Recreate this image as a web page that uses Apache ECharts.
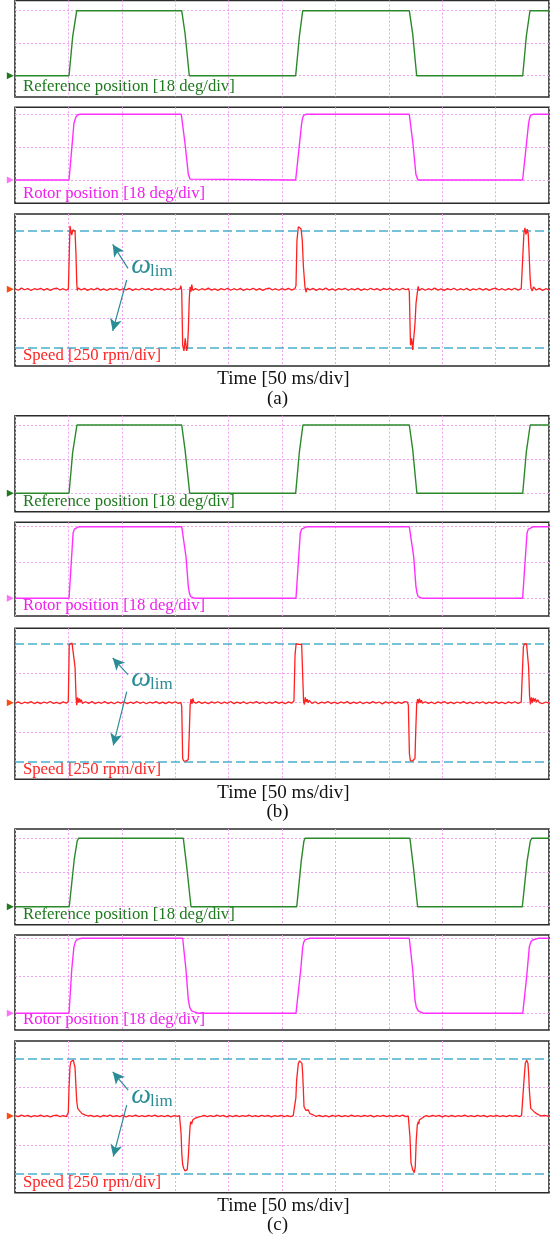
<!DOCTYPE html>
<html>
<head>
<meta charset="utf-8">
<script src="https://cdn.jsdelivr.net/npm/echarts@6/dist/echarts.min.js"></script>
<style>
html,body{margin:0;padding:0;background:#fff}
#chart{width:560px;height:1247px}
</style>
</head>
<body>
<div id="chart"></div>
<script>
// time in ms (50 ms/div), position in deg (18 deg/div), speed in rpm (250 rpm/div)
const timeRange = [0, 500]
const timeStep = 50
const posLevels = [0, 18, 36]
const speedLevels = [-250, 0, 250]
const speedLimit = 500
const panelTags = ['(a)', '(b)', '(c)']
const axisCaption = 'Time [50 ms/div]'
const traceNames = ['Reference position [18 deg/div]', 'Rotor position [18 deg/div]', 'Speed [250 rpm/div]']

const refA = [[0,0],[50.6,0],[54,21.6],[57.8,36],[156.1,36],[159.2,23.5],[163.2,0],[262.8,0],[266.3,22],[269.4,36],[369.2,36],[372.4,23],[376.1,0],[475.4,0],[478.8,22],[482.2,36],[500,36]]
const refB = [[0,0],[50.6,0],[54,21.6],[58,36],[156.1,36],[159.2,23],[163.6,0],[262.8,0],[266.3,22],[269.6,36],[369.2,36],[372.4,23],[376.3,0],[475.4,0],[478.8,22],[482.4,36],[500,36]]
const refC = [[0,0],[50.8,0],[55.5,25],[58.2,34.5],[59.5,36],[157.6,36],[161,20],[164.8,0],[263.8,0],[268,24],[270.5,34.5],[271.5,36],[369.8,36],[373.2,20],[377,0],[475,0],[479.5,24],[482.5,34.5],[483.8,36],[500,36]]

const rotorA = [[0,0],[50.6,0],[55.2,31.1],[56.8,34.2],[58.3,35.6],[60.9,36],[155.7,36],[159.2,20],[162.3,3],[163.9,0.5],[165.7,0],[262.8,0],[268.4,31],[269.3,34],[270.2,35.4],[272.5,36],[369.2,36],[372.6,20],[375.4,3],[377.3,0],[475.3,0],[480.9,31],[481.9,34],[482.8,35.5],[485,36],[500,36]]
const rotorB = [[0,0],[50.6,0],[54.4,32.7],[55.6,34.8],[57.1,35.7],[60,36],[156.1,36],[160.1,20.9],[162.3,5.8],[163.4,2.4],[164.5,0.8],[168.5,0],[263.1,0],[267.1,32.7],[268.3,34.8],[269.7,35.7],[273.4,36],[369.2,36],[373.3,21],[375.4,6],[376.5,2.4],[377.6,0.8],[381.7,0],[475.3,0],[479.4,32.7],[480.6,34.8],[481.9,35.7],[485.7,36],[500,36]]
const rotorC = [[0,0],[50.6,0],[53.1,20.8],[55.2,32],[56.6,34.4],[58.3,35.5],[62.4,36],[157,36],[160.1,20.8],[162.3,6.4],[163.6,2.8],[165.4,1.2],[171.6,0],[263.1,0],[267.5,20.8],[269.4,32],[270.4,34.2],[271.5,35.2],[275.6,36],[369.2,36],[372.4,20.8],[374.5,6.4],[375.8,2.8],[377.6,1.2],[382.3,0],[475.4,0],[479.1,17.6],[481.6,32],[483,34.2],[484.7,35.2],[489.9,36],[500,36]]

const speedA = [[0,4],[3,-8],[6,10],[9,-4],[12,7],[15,-10],[18,5],[21,-3],[24,9],[27,-7],[30,6],[33,-9],[36,3],[39,11],[42,-6],[45,5],[48,-8],[50,4],
  [50.6,20],[51.5,544],[52.3,500],[53.1,465],[54.2,510],[55.2,522],[56.2,500],[57.1,300],[57.8,60],[58.3,-10],[59.5,12],
  [62,-6],[65,8],[68,-9],[71,5],[74,-4],[77,10],[80,-7],[83,4],[86,-10],[89,6],[92,-3],[95,9],[98,-8],[101,5],[104,-5],[107,8],[110,-9],[113,4],[116,-6],[119,9],[122,-4],[125,6],[128,-10],[131,7],[134,-3],[137,8],[140,-8],[143,5],[146,-6],[149,9],[152,-4],[154.5,6],[155.3,30],[156.1,-10],
  [157,-480],[158.2,-528],[159.4,-420],[160.7,-528],[161.5,-500],[162.3,-350],[163.2,-80],[163.9,20],[164.8,-20],[165.5,40],[166.5,-10],
  [169,7],[172,-8],[175,5],[178,-5],[181,10],[184,-7],[187,4],[190,-9],[193,6],[196,-4],[199,9],[202,-8],[205,5],[208,-6],[211,8],[214,-10],[217,4],[220,-4],[223,9],[226,-7],[229,6],[232,-9],[235,3],[238,10],[241,-6],[244,5],[247,-8],[250,6],[253,-5],[256,9],[259,-7],[262,5],
  [263.1,30],[264,420],[265.3,536],[266.5,525],[267.8,520],[269,420],[270,200],[271.5,20],[272.5,-25],[273.5,10],
  [276,-6],[279,8],[282,-9],[285,5],[288,-4],[291,10],[294,-7],[297,4],[300,-10],[303,6],[306,-3],[309,9],[312,-8],[315,5],[318,-5],[321,8],[324,-9],[327,4],[330,-6],[333,9],[336,-4],[339,6],[342,-10],[345,7],[348,-3],[351,8],[354,-8],[357,5],[360,-6],[363,9],[366,-4],[368.5,5],
  [369.2,-20],[370.3,-480],[371.4,-420],[372.4,-520],[373.6,-505],[374.5,-300],[375.5,-120],[376.7,-30],[377.5,25],[378.5,-10],
  [381,7],[384,-8],[387,5],[390,-5],[393,10],[396,-7],[399,4],[402,-9],[405,6],[408,-4],[411,9],[414,-8],[417,5],[420,-6],[423,8],[426,-10],[429,4],[432,-4],[435,9],[438,-7],[441,6],[444,-9],[447,3],[450,10],[453,-6],[456,5],[459,-8],[462,6],[465,-5],[468,9],[471,-7],[474,5],
  [475.3,20],[476.5,480],[477.5,527],[478.4,470],[479.6,516],[480.5,480],[481.2,350],[482.3,100],[483.1,10],[484.3,-15],[485.5,20],
  [488,-6],[491,8],[494,-9],[497,5],[500,-4]]

const speedB = [[0,-5],[3,7],[6,-9],[9,4],[12,-3],[15,9],[18,-7],[21,5],[24,-8],[27,6],[30,-4],[33,10],[36,-6],[39,3],[42,-9],[45,7],[48,-4],
  [49.9,10],[50.8,490],[51.6,505],[52.5,495],[53.4,502],[54.3,496],[55.2,500],[56.2,300],[57.2,40],[57.8,-20],[58.6,45],[59.5,0],[60.3,35],[61.2,5],[62.1,25],[63,-5],
  [66,8],[69,-6],[72,10],[75,-8],[78,4],[81,-5],[84,9],[87,-7],[90,5],[93,-9],[96,6],[99,-3],[102,8],[105,-8],[108,4],[111,-6],[114,10],[117,-5],[120,6],[123,-9],[126,4],[129,-4],[132,9],[135,-7],[138,5],[141,-8],[144,7],[147,-4],[150,8],[153,-6],[155.3,3],
  [156.1,-30],[157,-470],[158,-490],[159,-480],[160,-492],[161,-485],[162.3,-478],[163.2,-250],[164,-20],[164.8,30],[165.7,-10],[166.5,35],[167.4,5],[168.3,20],[169.5,-5],
  [172,9],[175,-6],[178,5],[181,-9],[184,7],[187,-4],[190,8],[193,-7],[196,4],[199,-5],[202,10],[205,-8],[208,5],[211,-6],[214,8],[217,-9],[220,4],[223,-3],[226,9],[229,-7],[232,6],[235,-8],[238,4],[241,-5],[244,9],[247,-6],[250,5],[253,-9],[256,7],[259,-4],
  [261.2,15],[262.2,400],[263.2,495],[264.5,500],[265.8,492],[267,500],[268.4,490],[269.3,250],[270.2,10],[271,-15],[271.8,45],[272.7,5],[273.6,30],[274.5,0],[275.5,20],
  [278,-6],[281,8],[284,-9],[287,5],[290,-4],[293,10],[296,-7],[299,4],[302,-8],[305,6],[308,-3],[311,9],[314,-8],[317,5],[320,-5],[323,8],[326,-9],[329,4],[332,-6],[335,9],[338,-4],[341,6],[344,-10],[347,7],[350,-3],[353,8],[356,-8],[359,5],[362,-6],[365,9],
  [367.5,5],[368.3,-20],[369.3,-430],[370.2,-488],[371.2,-480],[372.2,-490],[373.3,-482],[374.5,-470],[375.3,-220],[376.1,-10],[377,30],[377.8,-5],[378.7,35],[379.6,0],[380.5,20],[381.5,-5],
  [384,8],[387,-6],[390,5],[393,-9],[396,7],[399,-4],[402,10],[405,-7],[408,5],[411,-8],[414,6],[417,-4],[420,9],[423,-7],[426,5],[429,-9],[432,6],[435,-3],[438,8],[441,-8],[444,5],[447,-5],[450,9],[453,-6],[456,4],[459,-9],[462,7],[465,-4],[468,8],[471,-6],[474,5],
  [475.4,10],[476,470],[477,495],[478,482],[479,494],[480.1,480],[480.9,300],[481.8,60],[482.6,-15],[483.5,45],[484.4,0],[485.3,40],[486.2,10],[487.2,35],[488.2,5],[489.5,25],[491,0],
  [494,-7],[497,6],[500,-4]]

const speedC = [[0,3],[3,-6],[6,7],[9,-4],[12,5],[15,-8],[18,4],[21,-3],[24,7],[27,-6],[30,4],[33,-7],[36,3],[39,8],[42,-5],[45,4],[48,-6],
  [49.3,2],[49.9,30],[50.6,250],[51.5,426],[52.3,470],[53.5,480],[54.6,484],[55.4,470],[56.2,420],[57.1,250],[57.8,130],[58.7,66],[59.3,58],[59.9,62],[60.7,42],[61.5,29],[62.8,20],[64,12],[66,8],[68.6,0],
  [71,6],[74,-5],[77,4],[80,-7],[83,5],[86,-3],[89,7],[92,-6],[95,3],[98,-5],[101,6],[104,-7],[107,4],[110,-4],[113,7],[116,-5],[119,3],[122,-6],[125,5],[128,-4],[131,7],[134,-6],[137,4],[140,-5],[143,6],[146,-7],[149,3],[152,-4],
  [154,3],[155,-10],[155.5,-150],[156.2,-330],[157,-420],[158,-455],[159.2,-475],[160.4,-482],[161.3,-465],[162.3,-352],[163.2,-200],[163.9,-93],[164.5,-49],[165.4,-69],[166.4,-35],[167.5,-25],[168.5,-20],[170.1,-12],[172,-8],[174.5,-3],
  [177,5],[180,-6],[183,4],[186,-5],[189,7],[192,-4],[195,5],[198,-7],[201,3],[204,-5],[207,6],[210,-6],[213,4],[216,-3],[219,7],[222,-5],[225,4],[228,-6],[231,5],[234,-4],[237,6],[240,-7],[243,4],[246,-3],[249,6],[252,-5],[255,4],[258,-6],[260.5,3],
  [262.2,10],[263,160],[263.7,311],[265.3,456],[266.5,478],[267.5,484],[268.7,456],[269.4,360],[270,225],[270.6,80],[271.5,66],[272.3,50],[273.1,37],[274.6,52],[276.2,20],[279.3,9],
  [282,-4],[285,6],[288,-5],[291,4],[294,-7],[297,5],[300,-3],[303,6],[306,-6],[309,4],[312,-5],[315,7],[318,-4],[321,3],[324,-6],[327,5],[330,-4],[333,6],[336,-7],[339,4],[342,-3],[345,6],[348,-5],[351,4],[354,-6],[357,5],[360,-4],[363,7],[366,-5],
  [368.2,0],[369.8,-179],[370.8,-409],[372.4,-467],[373.9,-490],[374.8,-438],[375.7,-208],[376.7,-78],[377.6,-49],[378.1,-70],[378.6,-35],[379.9,-20],[382.3,-10],
  [385,4],[388,-5],[391,6],[394,-4],[397,5],[400,-7],[403,3],[406,-5],[409,6],[412,-6],[415,4],[418,-3],[421,7],[424,-5],[427,4],[430,-6],[433,5],[436,-4],[439,6],[442,-7],[445,4],[448,-3],[451,6],[454,-5],[457,4],[460,-6],[463,5],[466,-4],[469,6],[472,-5],[474.3,3],
  [475,8],[476.6,311],[477.8,456],[479.1,484],[480.3,456],[481,360],[481.6,225],[482.9,66],[483.8,58],[484.7,52],[486.9,29],[490,12],[493.1,0],
  [496,5],[500,-3]]

// box layout per panel: [top, bottom, y of level 0, y of level +2 div] in px
const panels = [
  { traces: [refA, rotorA, speedA],
    rows: [[0.5, 97, 75.7, 10.7], [107.3, 203.3, 180, 114.3], [214, 366, 289.3, 231]],
    captionY: 379.5, tagY: 399,
    arrows: [[[105.8, 180], [91.5, 385]], [[104.6, 80], [91.5, -357]]],
    omega: [118, 200], lim: [137, 150] },
  { traces: [refB, rotorB, speedB],
    rows: [[415.7, 511.7, 493.3, 425], [522.3, 616, 598.3, 526.7], [628.3, 779.3, 702.7, 643.3]],
    captionY: 793, tagY: 812,
    arrows: [[[105.8, 236], [91.5, 377]], [[104.6, 94], [92, -360]]],
    omega: [118, 196], lim: [137, 146] },
  { traces: [refC, rotorC, speedC],
    rows: [[829, 924.7, 906.7, 838.3], [935, 1030, 1013.3, 938.3], [1041, 1192.7, 1116, 1058.3]],
    captionY: 1206, tagY: 1225.5,
    arrows: [[[106, 225], [91.5, 383]], [[104.6, 95], [92, -352]]],
    omega: [118, 170], lim: [137, 122] }
]

const traceStyles = [
  { line: '#2a8a2a', text: '#1f7a1f', mark: '#1d7a1d', unit: 18 },
  { line: '#ff30ff', text: '#f020f0', mark: '#ff70ff', unit: 18 },
  { line: '#ff2020', text: '#ff2424', mark: '#ff4a10', unit: 250 }
]
const gridPink = '#f3a2f3'
const limitBlue = '#4aaecb'
const annoTeal = '#2a8c95'
const serif = '"Liberation Serif", "Times New Roman", serif'

const grids = [], xAxes = [], yAxes = [], series = [], graphics = []

panels.forEach((p, pi) => {
  p.rows.forEach((r, ri) => {
    const [top, bottom, y0, y2] = r
    const st = traceStyles[ri]
    const k = grids.length
    const pxDiv = (y0 - y2) / 2
    grids.push({ left: 15, width: 534, top: top, height: bottom - top, show: true,
      borderColor: '#2b2b2b', borderWidth: 1.6, backgroundColor: '#fff' })
    xAxes.push({ gridIndex: k, type: 'value', min: timeRange[0], max: timeRange[1], interval: timeStep,
      axisLine: { show: false }, axisTick: { show: false }, axisLabel: { show: false },
      splitLine: { show: true, lineStyle: { color: gridPink, width: 1, type: [2, 2] } } })
    yAxes.push({ gridIndex: k, type: 'value', show: false,
      min: -(bottom - y0) / pxDiv * st.unit, max: (y0 - top) / pxDiv * st.unit })

    const levels = ri < 2 ? posLevels : speedLevels
    const lines = levels.map(v => ({ yAxis: v, lineStyle: { color: gridPink, width: 1, type: [2, 2] } }))
    if (ri === 2) {
      lines.push({ yAxis: speedLimit, lineStyle: { color: limitBlue, width: 1.5, type: [9, 4] } })
      lines.push({ yAxis: -speedLimit, lineStyle: { color: limitBlue, width: 1.5, type: [9, 4] } })
    }
    // grid lines + zero markers
    series.push({ type: 'line', xAxisIndex: k, yAxisIndex: k, data: [], z: 1, silent: true,
      markLine: { silent: true, symbol: 'none', animation: false, z: 1, label: { show: false }, data: lines },
      markPoint: { silent: true, animation: false, data: [{ x: 10.3, y: y0, symbol: 'triangle', symbolRotate: -90,
        symbolSize: [7, 7], itemStyle: { color: st.mark }, label: { show: false } }] } })
    // trace
    series.push({ type: 'line', xAxisIndex: k, yAxisIndex: k, data: p.traces[ri], z: 3,
      showSymbol: false, symbol: 'none', animation: false, silent: true,
      lineStyle: { color: st.line, width: ri === 2 ? 1.3 : 1.4 } })

    graphics.push({ type: 'text', silent: true, style: { x: 23, y: bottom - 10, text: traceNames[ri],
      fill: st.text, font: '16.7px ' + serif, verticalAlign: 'middle', align: 'left' } })

    if (ri === 2) {
      series.push({ type: 'line', xAxisIndex: k, yAxisIndex: k, data: [], z: 5, silent: true,
        markLine: { silent: true, animation: false, symbol: ['none', 'arrow'], symbolSize: [9, 12],
          label: { show: false }, lineStyle: { color: annoTeal, width: 1.2, type: 'solid' },
          data: p.arrows.map(a => [{ coord: a[0] }, { coord: a[1] }]) },
        markPoint: { silent: true, animation: false, symbolSize: 1, itemStyle: { color: 'rgba(0,0,0,0)' },
          data: [
            { coord: p.omega, label: { show: true, position: 'inside', formatter: 'ω', color: annoTeal,
              fontFamily: serif, fontStyle: 'italic', fontSize: 28 } },
            { coord: p.lim, label: { show: true, position: 'inside', formatter: 'lim', color: annoTeal,
              fontFamily: serif, fontSize: 17 } }
          ] } })
    }
  })
  graphics.push({ type: 'text', silent: true, style: { x: 283.5, y: p.captionY, text: axisCaption,
    fill: '#111', font: '19px ' + serif, verticalAlign: 'middle', align: 'center' } })
  graphics.push({ type: 'text', silent: true, style: { x: 277.5, y: p.tagY, text: panelTags[pi],
    fill: '#111', font: '19px ' + serif, verticalAlign: 'middle', align: 'center' } })
})

const chart = echarts.init(document.getElementById('chart'), null, { renderer: 'canvas' })
chart.setOption({
  animation: false,
  backgroundColor: '#fff',
  grid: grids,
  xAxis: xAxes,
  yAxis: yAxes,
  series: series,
  graphic: graphics
})
</script>
</body>
</html>
